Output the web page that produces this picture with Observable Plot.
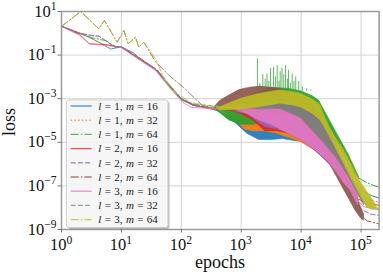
<!DOCTYPE html>
<html><head><meta charset="utf-8">
<script src="https://cdn.jsdelivr.net/npm/d3@7"></script>
<script src="https://cdn.jsdelivr.net/npm/@observablehq/plot@0.6"></script>
<style>
html,body{margin:0;padding:0;background:#fff;}
#chart{position:relative;width:383px;height:279px;overflow:hidden;}
#chart svg{display:block;}
</style></head><body><div id="chart"></div>
<script>
// ---------- data (epoch, loss) ----------
const xTicks = [1, 10, 100, 1e3, 1e4, 1e5];
const xTickExp = ["0", "1", "2", "3", "4", "5"];
const yTicks = [10, 1e-1, 1e-3, 1e-5, 1e-7, 1e-9];
const yTickExp = ["1", "\u22121", "\u22123", "\u22125", "\u22127", "\u22129"];

const legendL = [1, 1, 1, 2, 2, 2, 3, 3, 3];
const legendM = [16, 32, 64, 16, 32, 64, 16, 32, 64];

// l=1, m=16
const s1Early = [[1,2.1],[2,1.0],[2.9,0.66],[4.5,0.35],[6.6,0.19],[10,0.24],[16,0.126],[22,0.056],[37,0.022],[62,0.004],[100,8.9e-4],[158,5.0e-4],[251,4.0e-4],[398,2.8e-4],[562,1.6e-4]];
const s1Band = [[562,1.4e-4,1.8e-4],[794,7.9e-5,1.26e-4],[1259,2.5e-5,1.0e-4],[1995,1.26e-5,7.9e-5],[3162,1.26e-5,6.3e-5],[5012,1.41e-5,5.0e-5],[7943,1.12e-5,3.2e-5],[12589,1.0e-5,2.5e-5],[19953,3.2e-6,1.0e-5],[31623,1.0e-6,3.2e-6],[50119,2.0e-7,6.3e-7],[70795,7.9e-8,1.26e-7]];
const s1Tail = [[70795,1.0e-7],[1e5,6.3e-8],[125893,4.4e-8],[158489,3.4e-8],[199526,2.8e-8]];
// l=1, m=32
const s2Early = [[1,2.1],[2,1.1],[3.2,0.56],[5,0.32],[10,0.22],[22,0.056],[40,0.018],[63,0.004],[100,1.0e-3],[158,5.0e-4],[316,3.5e-4],[562,2.5e-4]];
const s2Band = [[562,2.2e-4,2.8e-4],[794,1.26e-4,2.5e-4],[1122,4.0e-5,2.0e-4],[1585,3.2e-5,1.6e-4],[2512,3.2e-5,1.0e-4],[3981,2.5e-5,6.3e-5],[6310,1.6e-5,4.0e-5],[10000,1.0e-5,2.5e-5],[19953,3.2e-6,1.0e-5],[31623,1.0e-6,3.2e-6],[50119,1.6e-7,5.0e-7],[79433,3.2e-8,6.3e-8]];
const s2Tail = [[79433,4.0e-8],[1e5,3.2e-8],[125893,2.5e-8],[158489,2.1e-8],[199526,1.78e-8]];
// l=1, m=64
const s3Early = [[1,2.1],[2,1.0],[3.2,0.63],[5.6,0.45],[7.9,0.25],[10,0.22],[22,0.063],[40,0.02],[63,0.0045],[100,1.0e-3],[158,5.6e-4],[282,4.0e-4],[398,3.2e-4]];
const s3Band = [[398,2.8e-4,3.5e-4],[631,1.0e-4,4.0e-4],[1000,6.3e-5,7.9e-4],[1585,6.3e-5,1.6e-3],[3162,1.0e-4,3.2e-3],[6310,1.6e-4,2.8e-3],[10000,1.6e-4,2.2e-3],[15849,1.26e-4,1.26e-3],[19953,1.0e-4,8.0e-4],[30200,2.5e-5,1.0e-4],[39811,7.9e-6,2.5e-5],[50119,3.2e-6,7.9e-6],[63096,1.0e-6,2.5e-6],[79433,3.2e-7,6.3e-7],[93325,2.0e-7,2.5e-7]];
const s3Tail = [[93325,2.2e-7],[1e5,2.0e-7],[125893,1.4e-7],[158489,1.07e-7],[199526,8.7e-8]];
const s3Spikes = [[1862,0.068],[2042,5.0e-3],[2291,0.0126],[2512,7.9e-3],[2692,0.0138],[2884,6.3e-3],[3090,0.025],[3467,0.028],[3715,0.01],[3981,0.033],[4266,6.3e-3],[4467,0.0178],[4786,0.025],[5129,0.0126],[5495,0.033],[5888,7.9e-3],[6166,0.02],[6607,5.0e-3],[7079,0.0138],[7586,6.3e-3],[8128,0.01],[9120,6.3e-3],[10471,3.4e-3],[12303,2.8e-3],[14454,2.5e-3]];
const s3SpikeBase = 2.2e-3;
// l=2, m=16
const s4Early = [[1,2.1],[2,0.9],[2.9,0.33],[5.4,0.3],[10,0.23],[22,0.056],[37,0.023],[62,0.0041],[100,1.0e-3],[158,5.0e-4],[316,3.5e-4],[631,3.2e-4]];
const s4Band = [[631,2.8e-4,3.5e-4],[1000,2.0e-4,3.2e-4],[1585,1.0e-4,3.2e-4],[2512,3.2e-5,4.0e-4],[3981,3.2e-5,3.5e-4],[6310,2.5e-5,2.0e-4],[10000,1.26e-5,1.0e-4],[15849,5.0e-6,3.2e-5],[25119,1.6e-6,7.9e-6],[39811,4.5e-7,1.26e-6],[63096,7.9e-8,1.6e-7],[89125,2.0e-8,3.2e-8]];
const s4Tail = [[89125,2.5e-8],[112202,1.9e-8],[141254,1.6e-8],[199526,1.26e-8]];
// l=2, m=32
const s5Early = [[1,2.1],[2,1.0],[3.2,0.79],[4.2,0.74],[7.9,0.23],[10,0.24],[22,0.063],[40,0.02],[63,0.004],[100,1.0e-3],[158,5.0e-4],[316,3.5e-4],[794,2.8e-4]];
const s5Band = [[794,2.5e-4,3.2e-4],[1259,2.0e-4,3.2e-4],[2512,5.0e-5,2.5e-4],[3981,4.0e-5,2.0e-4],[6310,2.5e-5,1.6e-4],[10000,1.26e-5,7.9e-5],[15849,5.0e-6,2.5e-5],[25119,1.6e-6,6.3e-6],[39811,4.5e-7,1.0e-6],[63096,7.9e-8,1.0e-7],[89125,1.0e-8,1.6e-8]];
const s5Tail = [[89125,1.12e-8],[112202,7.1e-9],[141254,5.2e-9],[199526,4.4e-9]];
// l=2, m=64
const s6Early = [[1,2.1],[2.1,10],[4.2,1.6],[5.2,3.9],[8.5,0.39],[11,1.35],[12.9,0.33],[17.2,0.66],[19.5,0.23],[23.7,0.39],[37,0.05],[63,0.0115],[110,3.2e-3],[224,4.9e-4],[316,4.0e-4],[355,3.5e-4]];
const s6Band = [[355,3.5e-4,4.0e-4],[447,3.2e-4,8.0e-4],[631,2.8e-4,1.4e-3],[933,2.8e-4,2.5e-3],[1413,3.2e-4,3.2e-3],[2089,3.2e-4,3.6e-3],[4467,2.5e-4,2.8e-3],[7943,1.6e-4,1.6e-3],[10000,1.0e-4,1.12e-3],[15849,2.5e-5,5.0e-4],[25119,2.5e-6,6.3e-5],[39811,2.5e-7,6.3e-6],[50119,7.9e-8,1.6e-6],[63096,2.5e-8,4.0e-7],[79433,7.9e-9,6.3e-8],[100000,3.2e-9,1.0e-8],[112202,2.5e-9,5.0e-9]];
const s6Tail = [[112202,3.2e-9],[125893,2.5e-9],[158489,2.1e-9],[199526,1.8e-9]];
// l=3, m=16
const s7Early = [[1,2.1],[2,0.8],[2.9,0.33],[5.4,0.28],[10,0.22],[22,0.05],[37,0.02],[62,0.0035],[100,7.9e-4],[141,4.1e-4],[316,3.5e-4],[794,4.0e-4]];
const s7Band = [[794,3.2e-4,4.0e-4],[1259,2.0e-4,4.1e-4],[1995,1.0e-4,4.0e-4],[3162,6.3e-5,4.0e-4],[6310,2.5e-5,2.8e-4],[10000,1.26e-5,1.26e-4],[17783,4.2e-6,2.5e-5],[27542,1.48e-6,7.1e-6],[39811,4.0e-7,2.0e-6],[51286,1.41e-7,7.9e-7],[66069,6.3e-8,2.5e-7],[89125,1.26e-8,5.0e-8]];
const s7Tail = [[89125,2.0e-8],[112202,1.12e-8],[158489,8.9e-9],[199526,7.9e-9]];
// l=3, m=32
const s8Early = [[1,2.1],[2,1.0],[3.2,0.79],[4.2,0.74],[7.9,0.23],[10,0.24],[22,0.063],[40,0.02],[63,0.004],[100,1.0e-3],[158,5.6e-4],[398,4.5e-4],[1000,5.0e-4]];
const s8Band = [[1000,4.0e-4,5.0e-4],[1995,3.2e-4,5.6e-4],[4467,3.5e-4,7.4e-4],[10000,1.26e-4,5.0e-4],[15849,3.2e-5,2.5e-4],[25119,7.9e-6,5.0e-5],[39811,1.7e-6,5.2e-6],[63096,2.5e-7,4.5e-7],[89125,4.0e-8,7.9e-8],[112202,1.26e-8,2.0e-8]];
const s8Tail = [[112202,1.6e-8],[141254,1.12e-8],[199526,8.9e-9]];
// l=3, m=64
const s9Early = [[1,2.1],[2.1,10],[4.2,1.6],[5.2,3.9],[8.5,0.39],[11,1.35],[12.9,0.33],[17.2,0.66],[19.5,0.23],[23.7,0.39],[37,0.068],[55,5.8e-3],[66,2.8e-3],[141,6.9e-4],[251,5.0e-4],[398,4.0e-4]];
const s9Band = [[398,3.5e-4,4.5e-4],[447,2.9e-4,4.1e-4],[1000,3.2e-4,1.0e-3],[1995,4.1e-4,1.66e-3],[4467,5.9e-4,2.4e-3],[7079,5.0e-4,2.0e-3],[10000,4.0e-4,1.66e-3],[15849,2.0e-4,8.9e-4],[20893,1.0e-4,5.0e-4],[23442,6.3e-5,2.1e-4],[30200,1.78e-5,4.5e-5],[39811,4.2e-6,1.26e-5],[50119,1.26e-6,5.0e-6],[63096,3.5e-7,1.58e-6],[79433,1.0e-7,4.5e-7],[100000,3.2e-8,1.41e-7],[125893,1.0e-8,5.6e-8],[158489,7.9e-9,2.2e-8],[186209,8.9e-9,1.0e-8]];
const s9Tail = [[186209,9.5e-9],[199526,8.9e-9]];

const colors = ["#1f77b4","#ff7f0e","#2ca02c","#d62728","#9467bd","#8c564b","#e377c2","#7f7f7f","#bcbd22"];
const dashes = ["none","1.4,2.3","8,2.2,1.4,2.2","none","5,2.2","8,2.2,1.4,2.2","none","5,2.2","8,2.2,1.4,2.2"];

const earlies = [s1Early,s2Early,s3Early,s4Early,s5Early,s6Early,s7Early,s8Early,s9Early];
const bands = [s1Band,s2Band,s3Band,s4Band,s5Band,s6Band,s7Band,s8Band,s9Band];
const tails = [s1Tail,s2Tail,s3Tail,s4Tail,s5Tail,s6Tail,s7Tail,s8Tail,s9Tail];

const font = "'Liberation Serif','DejaVu Serif',serif";

const marks = [
  Plot.gridX(xTicks, {stroke: "#d3d3d3", strokeOpacity: 1, strokeWidth: 1}),
  Plot.gridY(yTicks, {stroke: "#d3d3d3", strokeOpacity: 1, strokeWidth: 1})
];
for (let i = 0; i < 9; i++) {
  marks.push(Plot.lineY(earlies[i], {x: d => d[0], y: d => d[1], stroke: colors[i], strokeWidth: 1, strokeOpacity: 0.8, strokeDasharray: dashes[i]}));
  marks.push(Plot.areaY(bands[i], {x: d => d[0], y1: d => d[1], y2: d => d[2], fill: colors[i], fillOpacity: 0.92, stroke: colors[i], strokeWidth: 0.7, strokeOpacity: 0.8}));
  marks.push(Plot.lineY(tails[i], {x: d => d[0], y: d => d[1], stroke: colors[i], strokeWidth: 1, strokeOpacity: 0.9, strokeDasharray: dashes[i]}));
  if (i === 2) {
    marks.push(Plot.ruleX(s3Spikes, {x: d => d[0], y1: s3SpikeBase, y2: d => d[1], stroke: colors[2], strokeWidth: 1, strokeOpacity: 0.75}));
  }
}
marks.push(Plot.frame({stroke: "#9a9a9a", strokeWidth: 1.5}));
marks.push(Plot.axisX(xTicks, {tickSize: 3.5, tickFormat: () => "", stroke: "#777", label: null}));
marks.push(Plot.axisY(yTicks, {tickSize: 3.5, tickFormat: () => "", stroke: "#777", label: null}));

const chart = Plot.plot({
  width: 383, height: 279,
  marginLeft: 61, marginRight: 4.4, marginTop: 11, marginBottom: 50,
  x: {type: "log", domain: [1, 2e5]},
  y: {type: "log", domain: [1e-9, 10]},
  style: {background: "#fff", fontFamily: font},
  marks
});
document.getElementById("chart").appendChild(chart);

const svg = d3.select(chart);
const sx = chart.scale("x"), sy = chart.scale("y");
const g = svg.append("g").attr("font-family", font).attr("fill", "#111");

// x tick labels
xTicks.forEach((v, i) => {
  const t = g.append("text").attr("x", sx.apply(v)).attr("y", 250).attr("text-anchor", "middle").attr("font-size", 16.5);
  t.append("tspan").text("10");
  t.append("tspan").attr("dy", -6.5).attr("font-size", 11.5).text(xTickExp[i]);
});
// y tick labels
yTicks.forEach((v, i) => {
  const t = g.append("text").attr("x", 56.5).attr("y", sy.apply(v) + 5.5).attr("text-anchor", "end").attr("font-size", 16.5);
  t.append("tspan").text("10");
  t.append("tspan").attr("dy", -7).attr("font-size", 11.5).text(yTickExp[i]);
});
// axis labels
g.append("text").attr("x", 220).attr("y", 268).attr("text-anchor", "middle").attr("font-size", 18).text("epochs");
g.append("text").attr("transform", "translate(15,122) rotate(-90)").attr("text-anchor", "middle").attr("font-size", 18).text("loss");

// legend
const lg = svg.append("g").attr("font-family", font).attr("text-anchor", "start");
lg.append("rect").attr("x", 68).attr("y", 101.5).attr("width", 101.5).attr("height", 127.5).attr("rx", 2.5).attr("fill", "#000").attr("fill-opacity", 0.25);
lg.append("rect").attr("x", 66.5).attr("y", 100).attr("width", 101.5).attr("height", 127.5).attr("rx", 2.5).attr("fill", "#fff").attr("fill-opacity", 0.85).attr("stroke", "#cccccc").attr("stroke-width", 1);
legendL.forEach((l, i) => {
  const y = 106 + 14.2 * i;
  lg.append("line").attr("x1", 70.7).attr("x2", 91.7).attr("y1", y).attr("y2", y)
    .attr("stroke", colors[i]).attr("stroke-width", 1.4).attr("stroke-opacity", 0.75).attr("stroke-dasharray", dashes[i]);
  const t = lg.append("text").attr("x", 98.3).attr("y", y + 3.7).attr("font-size", 11).attr("fill", "#222").attr("text-anchor", "start").attr("word-spacing", 0.6);
  t.append("tspan").attr("font-style", "italic").text("l");
  t.append("tspan").text(" = " + l + ", ");
  t.append("tspan").attr("font-style", "italic").text("m");
  t.append("tspan").text(" = " + legendM[i]);
});
</script>
</body></html>
